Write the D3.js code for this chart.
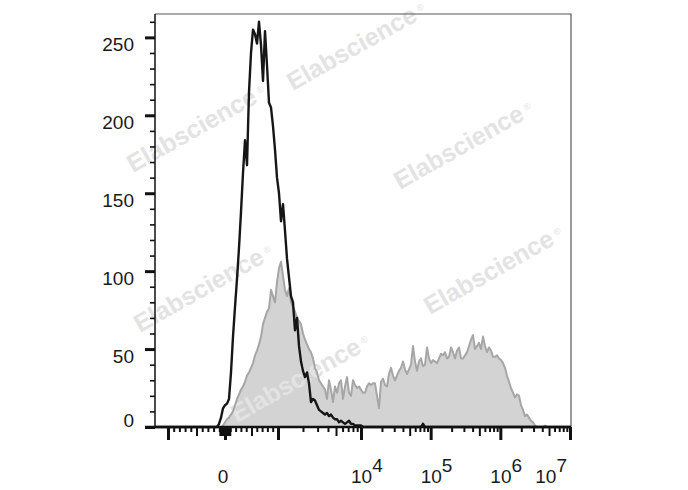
<!DOCTYPE html>
<html>
<head>
<meta charset="utf-8">
<script src="https://cdn.jsdelivr.net/npm/d3@7"></script>
<style>
  body { margin: 0; background: #fff; }
  svg { display: block; font-family: Arial, "Liberation Sans", sans-serif; }
</style>
</head>
<body>
<div id="vis-container"></div>
<script>
// histogram counts per display channel (channel 0 = left edge of the plot)
const controlCounts = [
  0,0,0,0,0,0,0,0,0,0,
  0,0,0,0,0,0,0,0,0,0,
  0,0,0,0,0,0,0,0,0,0,
  0,0,2,6,12,14,15,18,35,58,
  77,95,115,138,163,184,168,215,240,255,
  252,246,260,245,222,254,232,208,205,193,
  178,160,150,132,143,126,108,96,84,80,
  62,70,52,42,36,32,35,28,16,18,
  17,14,11,10,9,8,9,7,8,6,
  5,5,3,4,3,2,3,4,2,2,
  1,1,1,1,0,0,0,0,0,0,
  0,0,0,0,0,0,0,0,0,0,
  0,0,0,0,0,0,0,0,0,0,
  0,0,0,0,2,0,0,0,0,0,
  0,0,0,0,0,0,0,0,0,0,
  0,0,0,0,0,0,0,0,0,0,
  0,0,0,0,0,0,0,0,0,0,
  0,0,0,0,0,0,0,0,0,0,
  0,0,0,0,0,0,0,0,0,0,
  0,0,0,0,0,0,0,0,0,0,
  0,0,0,0,0,0,0,0,0
];

const stainedCounts = [
  0,0,0,0,0,0,0,0,0,0,
  0,0,0,0,0,0,0,0,0,0,
  0,0,0,0,0,0,0,0,0,0,
  0,0,0,0,1,3,5,6,8,10,
  14,18,21,24,26,29,33,35,38,41,
  46,49,53,58,66,70,74,76,88,84,
  80,93,102,106,97,88,84,89,80,77,
  74,70,68,66,60,56,53,50,48,44,
  38,35,30,28,26,24,18,30,24,16,
  26,22,28,30,18,26,32,22,20,30,
  27,25,26,24,22,22,26,28,27,28,
  28,20,12,29,31,27,26,34,38,33,
  30,33,36,38,42,37,34,37,40,52,
  42,36,42,44,39,40,51,44,41,43,
  42,41,44,47,46,48,44,45,51,48,
  44,49,51,44,44,46,48,52,56,59,
  50,52,54,50,58,52,48,51,49,45,
  45,46,44,43,41,38,33,29,25,22,
  19,21,20,14,11,7,8,6,4,3,
  1,0,0,0,0,1,0,0,0,0,
  0,0,0,0,0,0,0,0,0
];

const yMajorTicks = [0, 50, 100, 150, 200, 250];
const xMajorTicks = [-1000, 0, 1000, 1e4, 1e5, 1e6, 1e7];
const xLabelValues = [0, 1e4, 1e5, 1e6, 1e7];
const xLabelExponents = ["", "4", "5", "6", "7"];
const watermarkText = "Elabscience";

chart = {
  "width": 688, "height": 490,
  "left": 155, "right": 571, "top": 14, "bottom": 427,
  "nChannels": 209,
  "yMax": 265
}

// display transform: linear inside +-1000, log decades outside
function tf(v){
  let a = Math.abs(v);
  return a <= 1000 ? v / 1000 : Math.sign(v) * (1 + Math.log10(a / 1000));
}

let svg = d3.select("#vis-container").append("svg")
  .attr("width", chart.width).attr("height", chart.height);

let y = d3.scaleLinear().domain([0, chart.yMax]).range([chart.bottom, chart.top]);
let ch = d3.scaleLinear().domain([0, chart.nChannels - 1]).range([chart.left, chart.right]);
let x = d3.scaleLinear().domain([-1, 0, 1, 2, 5]).range([168, 225, 278, 361, 570]);

// tick values for the x axis
let xMinor = [], xMid = [];
for (let k = 1; k <= 9; k++){
  if (k == 5) { xMid.push(-500, 500); } else { xMinor.push(-k * 100, k * 100); }
  xMid.push(-k * 10, k * 10);
  [1e3, 1e4, 1e5, 1e6].forEach(d => {
    if (k < 2) return;
    if (k == 5) xMid.push(k * d); else xMinor.push(k * d);
  });
}

// histograms
let area = d3.area().x((d, i) => ch(i)).y0(y(0)).y1(d => y(d));
let line = d3.line().x((d, i) => ch(i)).y(d => y(d));

svg.append("path").datum(stainedCounts)
  .attr("d", area).attr("fill", "#d3d3d3").attr("stroke", "none");

// watermark stamps
let marks = [[133, 173], [293, 91], [400, 190], [430, 315], [140, 333], [237, 423]];
marks.forEach(m => {
  let t = svg.append("text")
    .attr("transform", "translate(" + m[0] + "," + m[1] + ") rotate(-29.5)")
    .attr("font-size", 25).attr("font-weight", "bold")
    .attr("fill", "#e3e3e3");
  t.append("tspan").text(watermarkText);
  t.append("tspan").attr("font-size", 9).attr("font-weight", "normal").attr("dx", 4).attr("dy", -7).text("®");
});

svg.append("path").datum(stainedCounts)
  .attr("d", line).attr("fill", "none").attr("stroke", "#a6a6a6").attr("stroke-width", 2)
  .attr("stroke-linejoin", "round");

svg.append("path").datum(controlCounts)
  .attr("d", line).attr("fill", "none").attr("stroke", "#161616").attr("stroke-width", 2.4)
  .attr("stroke-linejoin", "round");

// frame
svg.append("path")
  .attr("d", "M" + chart.left + "," + chart.top + "H" + chart.right + "V" + chart.bottom)
  .attr("fill", "none").attr("stroke", "#555").attr("stroke-width", 1.2);

// y axis
let yAxisG = svg.append("g").attr("transform", "translate(" + chart.left + ",0)");
yAxisG.append("g").call(d3.axisLeft(y).tickValues(d3.range(0, 261, 10).filter(v => v % 50 != 0)).tickSize(5).tickFormat(""))
  .call(g => g.select(".domain").remove())
  .call(g => g.selectAll("line").attr("stroke-width", 1.6).attr("stroke", "#111"));
yAxisG.append("g").call(d3.axisLeft(y).tickValues(yMajorTicks).tickSize(10).tickFormat(""))
  .call(g => g.select(".domain").remove())
  .call(g => g.selectAll("line").attr("stroke-width", 3).attr("stroke", "#111"));
yAxisG.append("line").attr("x1", 0).attr("x2", 0).attr("y1", chart.top).attr("y2", chart.bottom)
  .attr("stroke", "#111").attr("stroke-width", 1.5);

svg.selectAll(".y-label").data(yMajorTicks).enter().append("text")
  .attr("class", "y-label")
  .attr("x", 134)
  .attr("y", d => Math.min(y(d) + 14, y(0)))
  .attr("text-anchor", "end").attr("font-size", 19).attr("fill", "#1a1a1a")
  .text(d => d);

// x axis
let xAxisG = svg.append("g").attr("transform", "translate(0," + chart.bottom + ")");
xAxisG.append("g").call(d3.axisBottom(x).tickValues(xMinor.map(tf)).tickSize(5).tickFormat(""))
  .call(g => g.select(".domain").remove())
  .call(g => g.selectAll("line").attr("stroke-width", 2).attr("stroke", "#111"));
xAxisG.append("g").call(d3.axisBottom(x).tickValues(xMid.map(tf)).tickSize(9).tickFormat(""))
  .call(g => g.select(".domain").remove())
  .call(g => g.selectAll("line").attr("stroke-width", 2).attr("stroke", "#111"));
xAxisG.append("g").call(d3.axisBottom(x).tickValues(xMajorTicks.map(tf)).tickSize(13).tickFormat(""))
  .call(g => g.select(".domain").remove())
  .call(g => g.selectAll("line").attr("stroke-width", 3).attr("stroke", "#111"));
xAxisG.append("line").attr("x1", 145).attr("x2", chart.right).attr("y1", 0).attr("y2", 0)
  .attr("stroke", "#111").attr("stroke-width", 2.5);

let xl = svg.selectAll(".x-label").data(xLabelValues).enter().append("text")
  .attr("class", "x-label")
  .attr("x", (d, i) => i == xLabelValues.length - 1 ? x(tf(d)) - 3 : x(tf(d)) - (xLabelExponents[i] ? 0 : 2))
  .attr("y", 483)
  .attr("text-anchor", (d, i) => i == xLabelValues.length - 1 ? "end" : (xLabelExponents[i] ? "start" : "middle"))
  .attr("dx", (d, i) => (xLabelExponents[i] && i != xLabelValues.length - 1) ? -10 : 0)
  .attr("font-size", 19).attr("fill", "#1a1a1a");
xl.append("tspan").text((d, i) => xLabelExponents[i] ? "10" : "0");
xl.append("tspan").attr("dy", -11).text((d, i) => xLabelExponents[i]);
</script>
</body>
</html>
